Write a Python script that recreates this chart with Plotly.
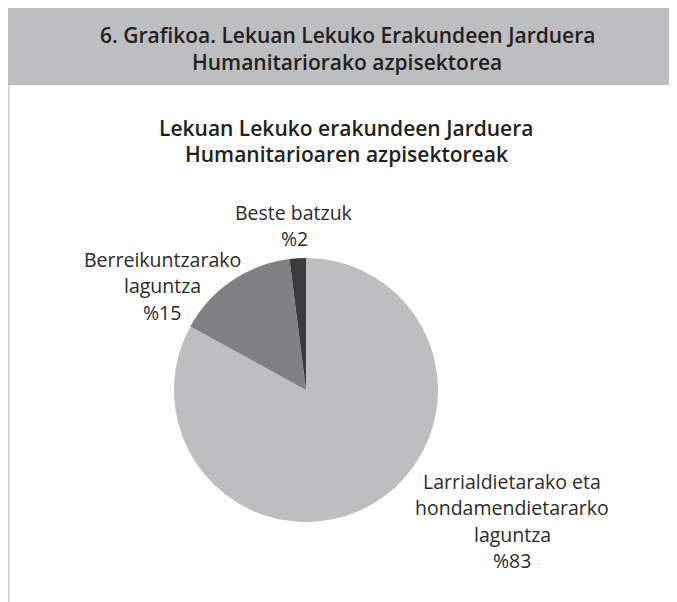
import plotly.graph_objects as go

W, H = 677, 602
OFF = 8  # page margin around the plot div

# === Data ===
sectors = ["Larrialdietarako eta hondamendietararko laguntza",
           "Berreikuntzarako laguntza",
           "Beste batzuk"]
shares = [83, 15, 2]
slice_colors = ["#bdbec0", "#808184", "#3b3b3d"]

header_title = ["6. Grafikoa. Lekuan Lekuko Erakundeen Jarduera",
                "Humanitariorako azpisektorea"]
chart_title = ["Lekuan Lekuko erakundeen Jarduera",
               "Humanitarioaren azpisektoreak"]

# label lines for each slice (name split as in the source + share)
label_lines = [
    ["Larrialdietarako eta", "hondamendietararko", "laguntza"],
    ["Berreikuntzarako", "laguntza"],
    ["Beste batzuk"],
]
# label anchor (center x, first line y) in screen pixels
label_pos = [(512, 481), (162, 259), (294, 212)]

FONT = "Open Sans"
TEXT = "#2b2b2b"


def px(x, y):
    # screen pixel -> paper coords
    return (x - OFF) / W, 1 - (y - OFF) / H


fig = go.Figure()
fig.add_trace(go.Pie(
    labels=sectors,
    values=shares,
    sort=False,
    direction="clockwise",
    rotation=0,
    marker=dict(colors=slice_colors, line=dict(width=0)),
    textinfo="none",
    hoverinfo="label+percent",
    domain=dict(x=[px(174, 0)[0], px(438, 0)[0]],
                y=[px(0, 522)[1], px(0, 258)[1]]),
    showlegend=False,
))

shapes = []
# grey header band
x0, y0 = px(8, 8)
x1, y1 = px(W + OFF, 85)
shapes.append(dict(type="rect", xref="paper", yref="paper", x0=x0, x1=x1,
                   y0=y1, y1=y0, fillcolor="#bdbec0", line=dict(width=0),
                   layer="below"))
# left border of the box
lx, ly0 = px(8.8, 85)
_, ly1 = px(8.8, H + OFF)
shapes.append(dict(type="line", xref="paper", yref="paper", x0=lx, x1=lx,
                   y0=ly0, y1=ly1, line=dict(color="#cfcfcf", width=1.6)))

annotations = []


def add_text(x, y, text, size, weight=400, color=TEXT):
    ax, ay = px(x, y)
    annotations.append(dict(x=ax, y=ay, xref="paper", yref="paper",
                            text=text, showarrow=False, xanchor="center",
                            yanchor="middle",
                            font=dict(family=FONT, size=size, color=color,
                                      weight=weight)))


for i, line in enumerate(header_title):
    add_text(347, 35 + i * 27, line, 21, 600, "#231f20")
for i, line in enumerate(chart_title):
    add_text(346, 128 + i * 26, line, 21, 600, "#231f20")

for lines, share, (cx, cy) in zip(label_lines, shares, label_pos):
    for i, line in enumerate(lines + [f"%{share}"]):
        add_text(cx, cy + i * 26.5, line, 19.5, 400)

fig.update_layout(
    width=W, height=H,
    margin=dict(l=0, r=0, t=0, b=0),
    paper_bgcolor="white",
    plot_bgcolor="white",
    shapes=shapes,
    annotations=annotations,
)

fig.write_html("out.html")
